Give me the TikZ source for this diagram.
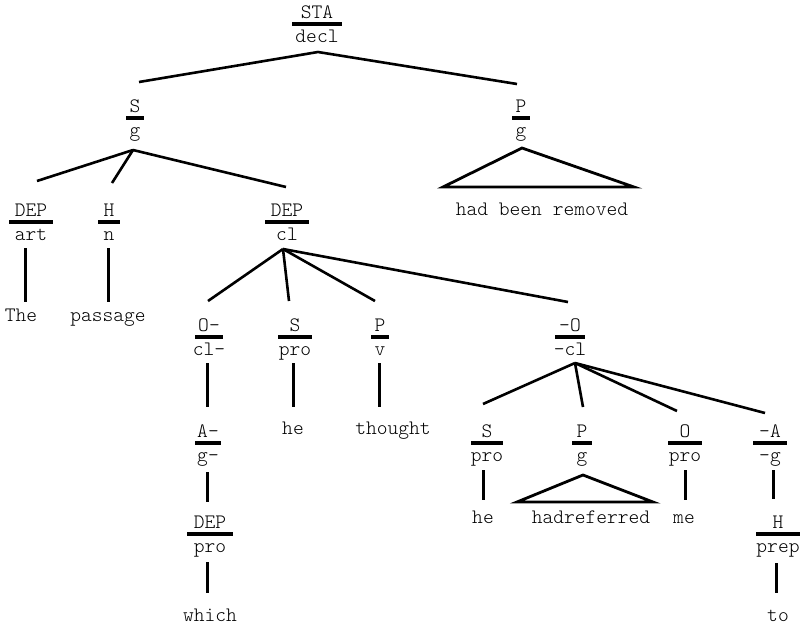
\documentclass[tikz,border=0pt]{standalone}
\usepackage{fontspec}
% one constituent: function label over a bar over a class label
% #1 name, #2 x, #3 bar y, #4 half bar width, #5 function, #6 class
\newcommand\constit[6]{%
  \node[lbl] (#1-f) at (#2,#3-6) {#5};
  \node[lbl] (#1-c) at (#2,#3+18) {#6};
  \draw[bar] (#2-#4,#3) -- (#2+#4,#3);
}
\begin{document}
\begin{tikzpicture}[x=1pt,y=-1pt,
  lbl/.style={font=\ttfamily\fontseries{l}\fontsize{20.5}{22}\selectfont, inner sep=0pt, anchor=base},
  bar/.style={line width=3.2pt},
  branch/.style={line width=2.6pt},
  stem/.style={line width=3pt},
  roof/.style={line width=2.8pt, line join=miter}]
\useasboundingbox (0,0) rectangle (807,625);

% ---- constituents ----
\constit{sta}{317}{24}{25}{STA}{decl}
\constit{s1}{135}{118}{9}{S}{g}
\constit{p1}{521}{118}{9}{P}{g}
\constit{dep1}{31}{222}{22}{DEP}{art}
\constit{h1}{109}{222}{11}{H}{n}
\constit{dep2}{287}{222}{22}{DEP}{cl}
\constit{o1}{209}{337}{14}{O-}{cl-}
\constit{s2}{295}{337}{17}{S}{pro}
\constit{p2}{380}{337}{9}{P}{v}
\constit{o2}{570}{337}{15}{-O}{-cl}
\constit{a1}{208}{443}{13}{A-}{g-}
\constit{dep3}{210}{534}{23}{DEP}{pro}
\constit{s3}{487}{443}{16}{S}{pro}
\constit{p3}{582}{443}{10}{P}{g}
\constit{o3}{685}{443}{17}{O}{pro}
\constit{a2}{770}{443}{17}{-A}{-g}
\constit{h2}{778}{534}{22}{H}{prep}

% ---- words ----
\node[lbl] (w-removed) at (542,215) {had been removed};
\node[lbl] (w-the) at (21,321) {The};
\node[lbl] (w-passage) at (108,321) {passage};
\node[lbl] (w-he1) at (293,434) {he};
\node[lbl] (w-thought) at (393,434) {thought};
\node[lbl] (w-which) at (210,621) {which};
\node[lbl] (w-he2) at (483,523) {he};
\node[lbl] (w-hadreferred) at (591,523) {hadreferred};
\node[lbl] (w-me) at (684,523) {me};
\node[lbl] (w-to) at (778,621) {to};

% ---- branch points below mothers ----
\coordinate (sta-out) at (318,52);
\coordinate (s1-out) at (133,150);
\coordinate (dep2-out) at (283,249);
\coordinate (o2-out) at (575,363);

% ---- line ends above daughters ----
\coordinate (s1-in) at (139,82);
\coordinate (p1-in) at (517,84);
\coordinate (dep1-in) at (37,181);
\coordinate (h1-in) at (112,183);
\coordinate (dep2-in) at (286,187);
\coordinate (o1-in) at (208,301);
\coordinate (s2-in) at (289,301);
\coordinate (p2-in) at (375,301);
\coordinate (o2-in) at (568,302);
\coordinate (s3-in) at (483,404);
\coordinate (p3-in) at (583,407);
\coordinate (o3-in) at (677,411);
\coordinate (a2-in) at (765,413);

% ---- branches ----
\draw[branch] (s1-in) -- (sta-out) -- (p1-in);
\draw[branch] (s1-out) -- (dep1-in);
\draw[branch] (s1-out) -- (h1-in);
\draw[branch] (s1-out) -- (dep2-in);
\draw[branch] (dep2-out) -- (o1-in);
\draw[branch] (dep2-out) -- (s2-in);
\draw[branch] (dep2-out) -- (p2-in);
\draw[branch] (dep2-out) -- (o2-in);
\draw[branch] (o2-out) -- (s3-in);
\draw[branch] (o2-out) -- (p3-in);
\draw[branch] (o2-out) -- (o3-in);
\draw[branch] (o2-out) -- (a2-in);

% ---- unary stems ----
\coordinate (dep1-s1) at (25,248);  \coordinate (dep1-s2) at (25,302);
\coordinate (h1-s1) at (108,248);   \coordinate (h1-s2) at (108,302);
\coordinate (o1-s1) at (207,363);   \coordinate (o1-s2) at (207,407);
\coordinate (s2-s1) at (293,363);   \coordinate (s2-s2) at (293,407);
\coordinate (p2-s1) at (379,363);   \coordinate (p2-s2) at (379,407);
\coordinate (a1-s1) at (207,472);   \coordinate (a1-s2) at (207,502);
\coordinate (dep3-s1) at (207,562); \coordinate (dep3-s2) at (207,593);
\coordinate (s3-s1) at (483,470);   \coordinate (s3-s2) at (483,500);
\coordinate (o3-s1) at (685,470);   \coordinate (o3-s2) at (685,500);
\coordinate (a2-s1) at (773,470);   \coordinate (a2-s2) at (773,499);
\coordinate (h2-s1) at (776,563);   \coordinate (h2-s2) at (776,593);
\foreach \n in {dep1,h1,o1,s2,p2,a1,dep3,s3,o3,a2,h2}
  \draw[stem] (\n-s1) -- (\n-s2);

% ---- roofs over unanalysed strings ----
\coordinate (p1-top) at (522,148);
\coordinate (p1-l) at (443,187);
\coordinate (p1-r) at (634,187);
\draw[roof] (p1-top) -- (p1-l) -- (p1-r) -- cycle;
\coordinate (p3-top) at (583,475);
\coordinate (p3-l) at (517,502);
\coordinate (p3-r) at (653,502);
\draw[roof] (p3-top) -- (p3-l) -- (p3-r) -- cycle;
\end{tikzpicture}
\end{document}
